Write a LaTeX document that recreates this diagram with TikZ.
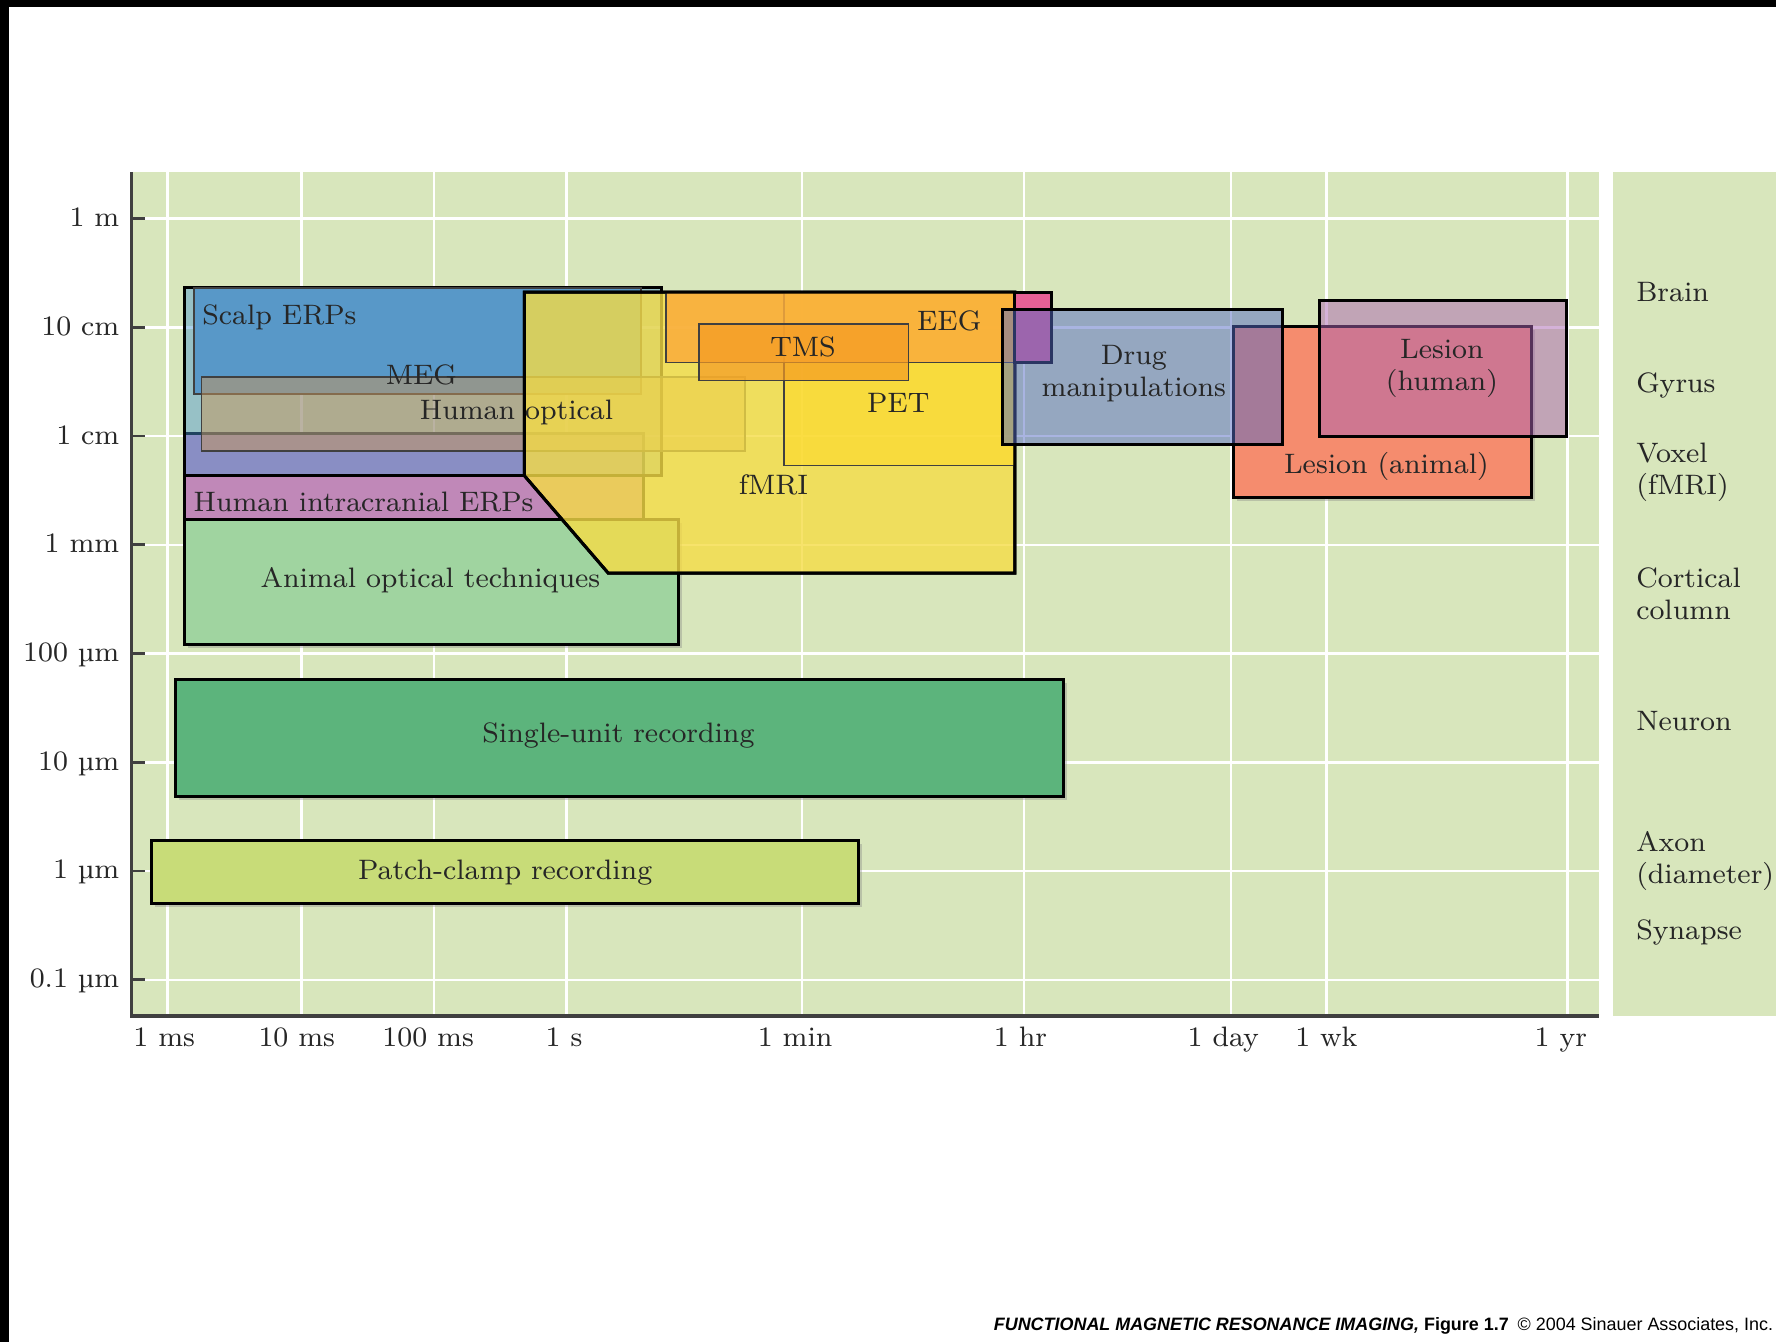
\documentclass[tikz,border=0pt]{standalone}
\usepackage{fontspec}
\newfontfamily\footfont{Liberation Sans}
\usetikzlibrary{positioning,shadows}
\definecolor{bg}{RGB}{216,230,188}
\definecolor{meg}{RGB}{72,150,212}
\definecolor{scalp}{RGB}{88,152,200}
\definecolor{ieeg}{RGB}{192,136,184}
\definecolor{aopt}{RGB}{160,212,160}
\definecolor{hopt}{RGB}{200,150,90}
\definecolor{fmri}{RGB}{245,220,70}
\definecolor{pet}{RGB}{255,218,40}
\definecolor{eeg}{RGB}{250,172,60}
\definecolor{eegm}{RGB}{230,96,150}
\definecolor{tms}{RGB}{245,155,35}
\definecolor{drug}{RGB}{84,106,196}
\definecolor{lesa}{RGB}{245,140,110}
\definecolor{lesh}{RGB}{171,100,178}
\definecolor{unit}{RGB}{92,180,124}
\definecolor{patch}{RGB}{200,220,120}
\definecolor{axis}{RGB}{64,64,64}

\begin{document}
\begin{tikzpicture}[x=0.11327mm, y=-0.11327mm,
    font=\fontsize{8}{9}\selectfont,
    box/.style={draw=black, line width=0.85pt},
    inner/.style={draw=black!75, line width=0.5pt},
    lbl/.style={inner sep=0pt, text=black!85},
    side/.style={anchor=west, align=left, inner sep=0pt, text=black!85},
    grid/.style={white, line width=0.7pt},
    shade/.style={drop shadow={shadow xshift=1pt, shadow yshift=-1pt, opacity=.35}}]
  \useasboundingbox (0,0) rectangle (1568,1185);
  \fill[black] (0,0) rectangle (1568,6);
  \fill[black] (0,0) rectangle (8,1185);
  \fill[bg] (116,152) rectangle (1412,897);
  \fill[bg] (1424,152) rectangle (1568,897);
  \foreach \x in {148,266,383,500,708,904,1087,1171,1384}
    \draw[grid] (\x,152) -- (\x,897);
  \foreach \y in {193,289,385,481,577,673,769,865}
    \draw[grid] (116,\y) -- (1412,\y);

  % left group
  \draw[box, fill=ieeg] (163,383) rectangle (568,463);
  \draw[box, fill=aopt, shade] (163,459) rectangle (599,569);
  \draw[box, fill=meg, fill opacity=.45] (163,254) rectangle (584,420);
  \draw[inner, fill=scalp] (171,254) rectangle (566,348);
  \draw[inner, fill=hopt, fill opacity=.5] (178,333) rectangle (658,398);

  % imaging group
  \draw[box, fill=fmri, fill opacity=.8] (463,258) -- (896,258) -- (896,506)
    -- (537,506) -- (463,420) -- cycle;
  \draw[inner, fill=pet, fill opacity=.6] (692,258) rectangle (896,411);
  \fill[eeg, opacity=.85] (588,258) rectangle (896,320);
  \draw[inner] (588,258) rectangle (896,320);
  \draw[inner, fill=tms, fill opacity=.7] (617,286) rectangle (802,336);
  \draw[box] (463,258) -- (896,258) -- (896,506) -- (537,506) -- (463,420) -- cycle;
  \draw[box, fill=eegm] (896,258) rectangle (928,320);

  % slow methods
  \draw[box, fill=lesa, shade] (1089,288) rectangle (1352,439);
  \draw[box, fill=drug, fill opacity=.5] (885,273) rectangle (1132,392);
  \draw[box, fill=lesh, fill opacity=.5] (1165,265) rectangle (1383,385);

  % cellular
  \draw[box, fill=unit, shade] (155,600) rectangle (939,703);
  \draw[box, fill=patch, shade] (134,742) rectangle (758,798);

  % axes
  \draw[axis, line width=0.9pt] (116,152) -- (116,897) -- (1412,897);
  \foreach \y/\t [count=\i] in {193/1 m, 289/10 cm, 385/1 cm, 481/1 mm,
      577/100 µm, 673/10 µm, 769/1 µm, 865/0.1 µm} {
    \draw[axis, line width=0.8pt] (116,\y) -- (128,\y);
    \node[lbl, anchor=base east] (y\i) at (106,{\y+7}) {\t};
  }
  \foreach \x/\t [count=\i] in {145/1 ms, 262/10 ms, 378/100 ms, 498/1 s,
      702/1 min, 901/1 hr, 1080/1 day, 1171/1 wk, 1378/1 yr}
    \node[lbl, anchor=base] (t\i) at (\x,924) {\t};

  % labels
  \node[lbl, anchor=west] (scalp) at (178,280) {Scalp ERPs};
  \node[lbl] (meg) at (372,331) {MEG};
  \node[lbl] (hopt) at (456,364) {Human optical};
  \node[lbl] (ieeg) at (321,443) {Human intracranial ERPs};
  \node[lbl] (aopt) at (380,512) {Animal optical techniques};
  \node[lbl] (fmri) at (683,428) {fMRI};
  \node[lbl] (pet) at (793,356) {PET};
  \node[lbl] (tms) at (709,306) {TMS};
  \node[lbl] (eeg) at (838,283) {EEG};
  \node[lbl, align=center] (drug) at (1001,330) {Drug\\manipulations};
  \node[lbl, align=center] (lesh) at (1273,325) {Lesion\\(human)};
  \node[lbl] (lesa) at (1224,412) {Lesion (animal)};
  \node[lbl] (unit) at (546,649) {Single-unit recording};
  \node[lbl] (patch) at (446,770) {Patch-clamp recording};

  \node[side] (brain) at (1444,258) {Brain};
  \node[side] (gyrus) at (1444,340) {Gyrus};
  \node[side] (voxel) at (1444,417) {Voxel\\(fMRI)};
  \node[side] (column) at (1444,524) {Cortical\\column};
  \node[side] (neuron) at (1444,637) {Neuron};
  \node[side] (axon) at (1444,760) {Axon\\(diameter)};
  \node[side] (syn) at (1444,823) {Synapse};

  \node[inner sep=0pt, anchor=base east, font=\footfont\fontsize{5.1}{6}\selectfont]
    (cap) at (1566,1175) {{\bfseries\itshape FUNCTIONAL MAGNETIC RESONANCE IMAGING,}
    {\bfseries Figure 1.7}\enspace\textcopyright\ 2004 Sinauer Associates, Inc.};
\end{tikzpicture}
\end{document}
